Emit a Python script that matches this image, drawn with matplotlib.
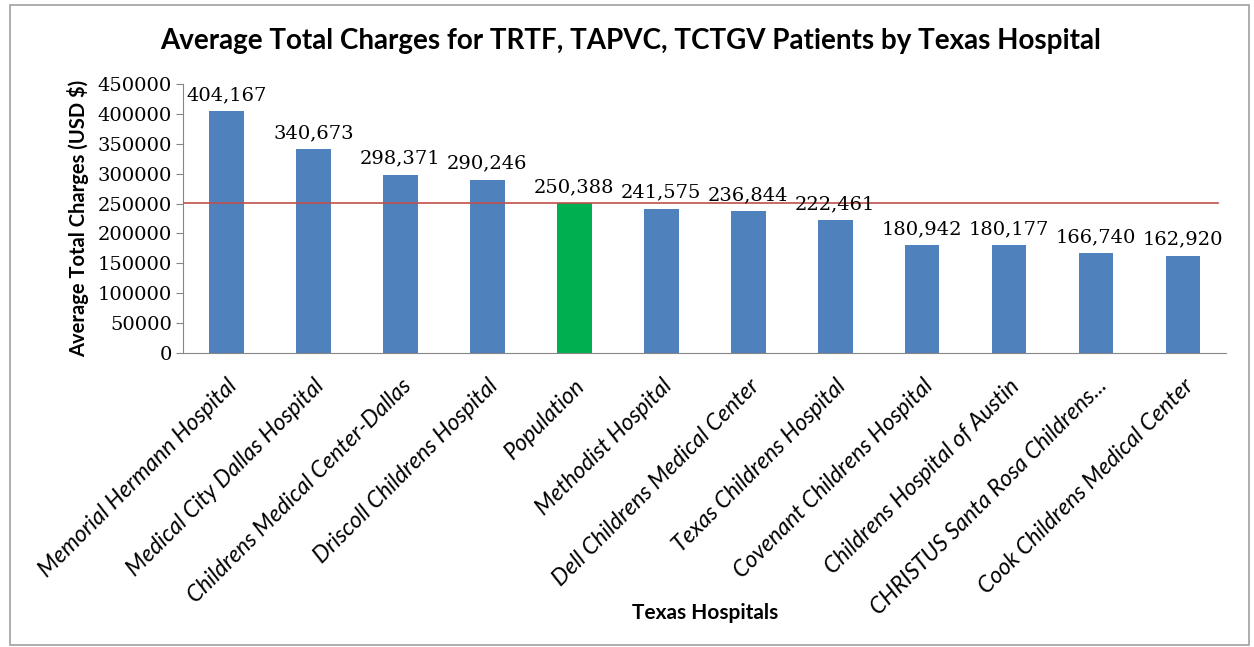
import matplotlib.pyplot as plt
import matplotlib.transforms as mtransforms
from matplotlib.patches import Rectangle

hospitals = [
    "Memorial Hermann Hospital",
    "Medical City Dallas Hospital",
    "Childrens Medical Center-Dallas",
    "Driscoll Childrens Hospital",
    "Population",
    "Methodist Hospital",
    "Dell Childrens Medical Center",
    "Texas Childrens Hospital",
    "Covenant Childrens Hospital",
    "Childrens Hospital of Austin",
    "CHRISTUS Santa Rosa Childrens...",
    "Cook Childrens Medical Center",
]
charges = [404167, 340673, 298371, 290246, 250388, 241575,
           236844, 222461, 180942, 180177, 166740, 162920]
population_avg = 250388
yticks = list(range(0, 450001, 50000))

blue = "#4F81BD"
green = "#00B050"
colors = [green if h == "Population" else blue for h in hospitals]

fig = plt.figure(figsize=(12.54, 6.47), dpi=100)
ax = fig.add_axes([0.146, 0.4544, 0.832, 0.4156])

x = range(len(hospitals))
ax.bar(x, charges, width=0.4, color=colors, zorder=2)
ax.axhline(population_avg, xmax=0.992, color="#C0504D", lw=1.2, zorder=3)

for i, v in enumerate(charges):
    ax.annotate(f"{v:,}", (i, v), xytext=(0, 5), textcoords="offset points",
                ha="center", va="bottom", family="DejaVu Serif", fontsize=14)

ax.set_xlim(-0.5, len(hospitals) - 0.5)
ax.set_ylim(0, 450000)
ax.set_yticks(yticks)
ax.set_yticklabels([str(t) for t in yticks], family="DejaVu Serif", fontsize=14)
ax.set_xticks(list(x))
ax.set_xticklabels(hospitals, rotation=45, ha="right", rotation_mode="anchor",
                   family="Lato", style="italic", fontsize=16.5)
offset = mtransforms.ScaledTranslation(0.1, 0, fig.dpi_scale_trans)
for lab in ax.get_xticklabels():
    lab.set_transform(lab.get_transform() + offset)

ax.tick_params(axis="x", length=0, pad=16)
ax.tick_params(axis="y", length=5, color="#868686", pad=3)
for s in ["top", "right"]:
    ax.spines[s].set_visible(False)
for s in ["left", "bottom"]:
    ax.spines[s].set_color("#868686")

ax.set_ylabel("Average Total Charges (USD $)", family="Lato", fontweight="bold",
              fontsize=14.5, labelpad=6)
fig.text(0.5625, 0.052, "Texas Hospitals", family="Lato", fontweight="bold",
         fontsize=15, ha="center", va="center")
fig.text(0.503, 0.937, "Average Total Charges for TRTF, TAPVC, TCTGV Patients by Texas Hospital",
         family="Lato", fontweight="bold", fontsize=20, ha="center", va="center")

fig.patches.append(Rectangle((0.008, 0.003), 0.988, 0.99, transform=fig.transFigure,
                             fill=False, edgecolor="#A0A0A0", lw=1.2))

fig.savefig("out.png", dpi=100)
